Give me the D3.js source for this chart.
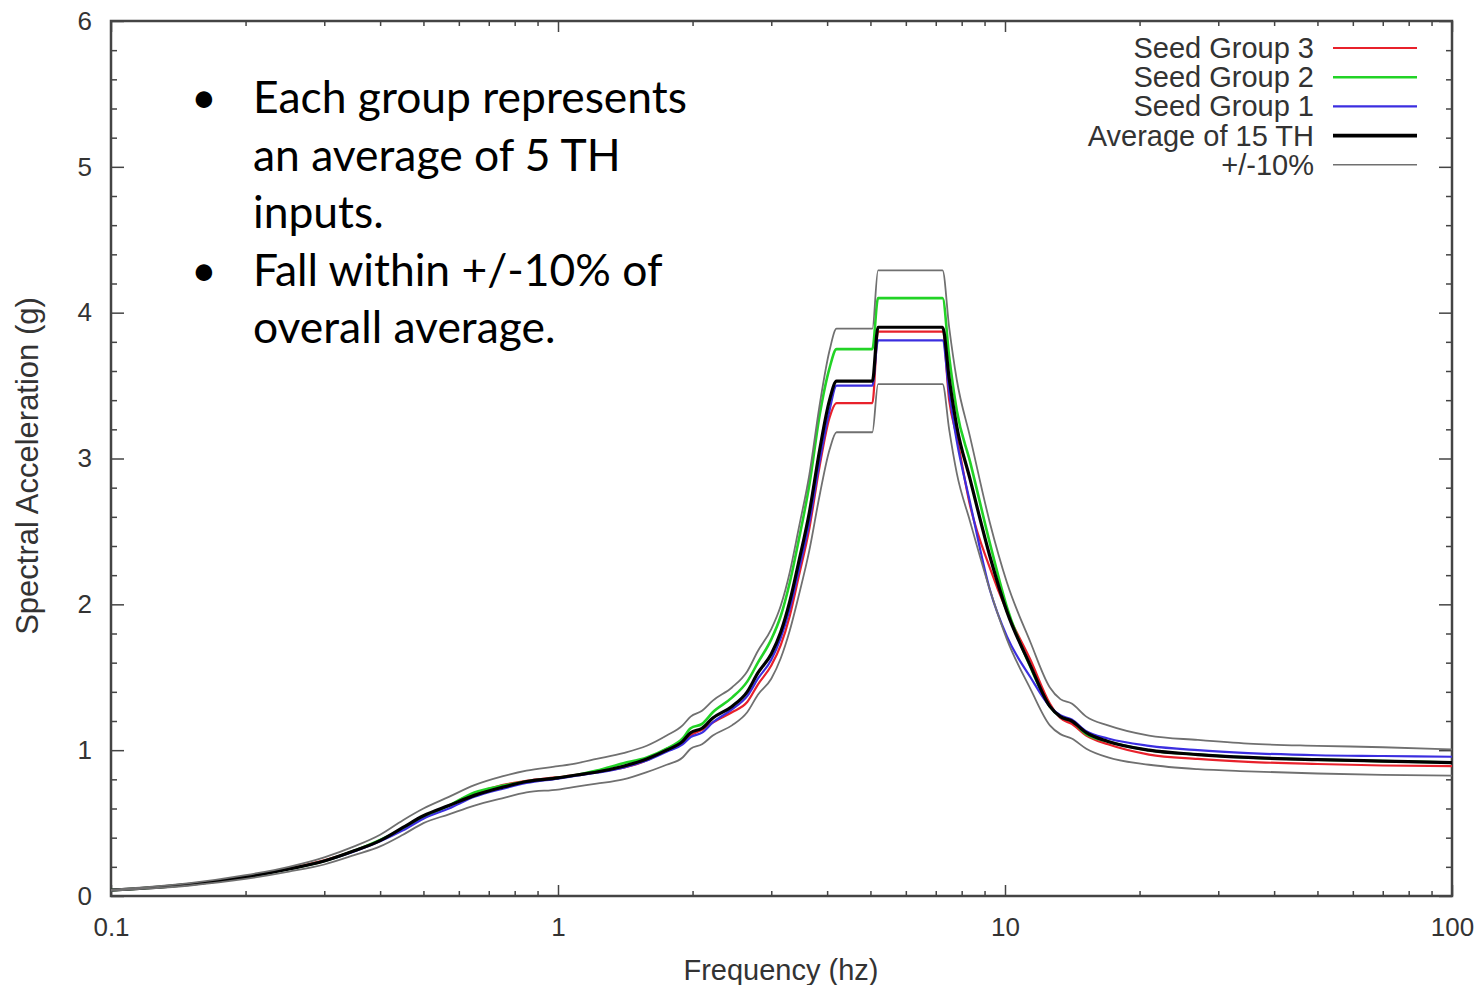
<!DOCTYPE html>
<html>
<head>
<meta charset="utf-8">
<title>Spectral Acceleration</title>
<script src="https://cdn.jsdelivr.net/npm/d3@7"></script>
<style>
  body { margin: 0; background: #fff; }
  .chart text { font-family: "Liberation Sans", Arial, sans-serif; fill: #333; }
  .note text { font-family: Lato, "Open Sans", sans-serif; fill: #000; }
</style>
</head>
<body>
<div class="chart"></div>
<script>
// frequency points (hz) shared by all curves
var freq = [0.1, 0.12, 0.15, 0.2, 0.25, 0.3, 0.35, 0.4, 0.45, 0.5, 0.57, 0.65, 0.75, 0.85,
  1.0, 1.1, 1.22, 1.4, 1.58, 1.75, 1.9, 1.98, 2.1, 2.22, 2.45, 2.65, 2.8, 3.0, 3.15, 3.3,
  3.45, 3.65, 3.85, 4.05, 4.2, 4.3, 5.05, 5.2, 7.25, 7.5, 7.8, 8.35, 9.25, 10.1, 11.4,
  12.6, 13.3, 14.1, 15.2, 17, 21, 27, 35, 50, 70, 100];

var seed3 = [0.04, 0.055, 0.08, 0.13, 0.19, 0.245, 0.31, 0.38, 0.46, 0.54, 0.62, 0.70, 0.76, 0.79,
  0.815, 0.83, 0.85, 0.88, 0.93, 1.01, 1.05, 1.1, 1.14, 1.19, 1.26, 1.33, 1.45, 1.58, 1.72, 1.92,
  2.18, 2.52, 2.95, 3.28, 3.38, 3.38, 3.38, 3.87, 3.87, 3.4, 3.15, 2.68, 2.25, 1.95, 1.62,
  1.32, 1.22, 1.18, 1.1, 1.04, 0.97, 0.94, 0.92, 0.905, 0.895, 0.89];

var seed2 = [0.04, 0.055, 0.08, 0.13, 0.185, 0.24, 0.31, 0.385, 0.46, 0.54, 0.62, 0.71, 0.755, 0.785,
  0.81, 0.83, 0.86, 0.91, 0.95, 1.01, 1.08, 1.15, 1.18, 1.26, 1.36, 1.47, 1.6, 1.76, 1.92, 2.15,
  2.43, 2.82, 3.3, 3.62, 3.75, 3.75, 3.75, 4.1, 4.1, 3.7, 3.33, 2.98, 2.42, 1.98, 1.57,
  1.3, 1.23, 1.2, 1.11, 1.06, 1.0, 0.97, 0.95, 0.935, 0.925, 0.915];

var seed1 = [0.04, 0.055, 0.08, 0.13, 0.185, 0.24, 0.305, 0.375, 0.45, 0.53, 0.6, 0.68, 0.735, 0.775,
  0.805, 0.825, 0.845, 0.88, 0.93, 0.99, 1.04, 1.09, 1.12, 1.19, 1.28, 1.37, 1.49, 1.62, 1.77, 1.97,
  2.22, 2.56, 2.98, 3.33, 3.5, 3.5, 3.5, 3.81, 3.81, 3.45, 3.12, 2.7, 2.1, 1.78, 1.5,
  1.3, 1.24, 1.21, 1.13, 1.08, 1.03, 1.0, 0.98, 0.965, 0.96, 0.955];

var avg15 = [0.04, 0.055, 0.08, 0.13, 0.185, 0.24, 0.31, 0.38, 0.47, 0.55, 0.62, 0.69, 0.745, 0.785,
  0.81, 0.83, 0.85, 0.89, 0.94, 1.0, 1.06, 1.12, 1.15, 1.22, 1.3, 1.4, 1.53, 1.66, 1.81, 2.02,
  2.28, 2.63, 3.06, 3.4, 3.53, 3.53, 3.53, 3.9, 3.9, 3.55, 3.22, 2.86, 2.33, 1.95, 1.58,
  1.3, 1.23, 1.2, 1.12, 1.06, 1.0, 0.97, 0.95, 0.935, 0.925, 0.915];

var upper10 = [0.044, 0.06, 0.088, 0.143, 0.2, 0.265, 0.34, 0.42, 0.52, 0.6, 0.68, 0.76, 0.82, 0.86,
  0.89, 0.91, 0.94, 0.98, 1.03, 1.1, 1.17, 1.23, 1.27, 1.34, 1.43, 1.54, 1.68, 1.83, 1.99, 2.22,
  2.51, 2.89, 3.37, 3.74, 3.89, 3.89, 3.89, 4.29, 4.29, 3.9, 3.54, 3.15, 2.56, 2.15, 1.74,
  1.43, 1.35, 1.32, 1.23, 1.17, 1.1, 1.07, 1.045, 1.03, 1.02, 1.005];

var lower10 = [0.036, 0.05, 0.072, 0.117, 0.167, 0.216, 0.28, 0.34, 0.42, 0.5, 0.56, 0.62, 0.67, 0.71,
  0.73, 0.75, 0.77, 0.8, 0.85, 0.9, 0.95, 1.01, 1.04, 1.1, 1.17, 1.26, 1.38, 1.49, 1.63, 1.82,
  2.05, 2.37, 2.75, 3.06, 3.18, 3.18, 3.18, 3.51, 3.51, 3.2, 2.9, 2.57, 2.1, 1.76, 1.42,
  1.17, 1.11, 1.08, 1.01, 0.95, 0.9, 0.87, 0.855, 0.84, 0.83, 0.825];

var xMajor = [0.1, 1, 10, 100];
var xTickLabels = ["0.1", "1", "10", "100"];
var yMajor = [0, 1, 2, 3, 4, 5, 6];

var legendNames = ["Seed Group 3", "Seed Group 2", "Seed Group 1", "Average of 15 TH", "+/-10%"];

var noteLines = ["Each group represents", "an average of 5 TH", "inputs.", "Fall within +/-10% of", "overall average."];
var noteBullets = [true, false, false, true, false];

var W = 1484, H = 985;
var mLeft = 111, mRight = 1452, mTop = 21, mBottom = 896;

var svg = d3.select('.chart').append('svg')
    .attr('width', W).attr('height', H);

var x = d3.scaleLog().domain([0.1, 100]).range([mLeft, mRight]);
var y = d3.scaleLinear().domain([0, 6]).range([mBottom, mTop]);

// minor ticks
var xMinor = [];
[0.1, 1, 10].forEach(function(d) {
  for (var k = 2; k <= 9; k++) xMinor.push(d * k);
});
var yMinor = d3.range(0, 6.01, 0.2).filter(function(v) { return Math.abs(v - Math.round(v)) > 0.01; });

function tidy(g) {
  g.select('.domain').remove();
  g.selectAll('.tick line').attr('stroke', '#444').attr('stroke-width', 1.5);
}

// bottom
svg.append('g').attr('transform', 'translate(0,' + mBottom + ')')
  .call(d3.axisBottom(x).tickValues(xMajor).tickSize(-11).tickPadding(22)
    .tickFormat(function(d, i) { return xTickLabels[i]; }))
  .call(tidy)
  .selectAll('text').attr('font-size', 26).attr('fill', '#333');
svg.append('g').attr('transform', 'translate(0,' + mBottom + ')')
  .call(d3.axisBottom(x).tickValues(xMinor).tickSize(-5).tickFormat(''))
  .call(tidy);
// top
svg.append('g').attr('transform', 'translate(0,' + mTop + ')')
  .call(d3.axisTop(x).tickValues(xMajor).tickSize(-11).tickFormat(''))
  .call(tidy);
svg.append('g').attr('transform', 'translate(0,' + mTop + ')')
  .call(d3.axisTop(x).tickValues(xMinor).tickSize(-5).tickFormat(''))
  .call(tidy);
// left
svg.append('g').attr('transform', 'translate(' + mLeft + ',0)')
  .call(d3.axisLeft(y).tickValues(yMajor).tickSize(-13).tickPadding(19).tickFormat(d3.format('d')))
  .call(tidy)
  .selectAll('text').attr('font-size', 26).attr('fill', '#333');
svg.append('g').attr('transform', 'translate(' + mLeft + ',0)')
  .call(d3.axisLeft(y).tickValues(yMinor).tickSize(-6).tickFormat(''))
  .call(tidy);
// right
svg.append('g').attr('transform', 'translate(' + mRight + ',0)')
  .call(d3.axisRight(y).tickValues(yMajor).tickSize(-13).tickFormat(''))
  .call(tidy);
svg.append('g').attr('transform', 'translate(' + mRight + ',0)')
  .call(d3.axisRight(y).tickValues(yMinor).tickSize(-6).tickFormat(''))
  .call(tidy);

// frame
svg.append('rect')
  .attr('x', mLeft).attr('y', mTop)
  .attr('width', mRight - mLeft).attr('height', mBottom - mTop)
  .attr('fill', 'none').attr('stroke', '#444').attr('stroke-width', 2.5);

// axis titles
svg.append('text')
  .attr('x', 781).attr('y', 980)
  .attr('text-anchor', 'middle').attr('font-size', 29)
  .text('Frequency (hz)');
svg.append('text')
  .attr('transform', 'translate(38,' + 466 + ') rotate(-90)')
  .attr('text-anchor', 'middle').attr('font-size', 31)
  .text('Spectral Acceleration (g)');

// curves
var line = d3.line()
  .x(function(d) { return x(d[0]); })
  .y(function(d) { return y(d[1]); })
  .curve(d3.curveMonotoneX);

var series = [
  { vals: seed3, color: '#e8212b', width: 2.2 },
  { vals: seed2, color: '#22d326', width: 2.6 },
  { vals: seed1, color: '#3b2ee0', width: 2.2 },
  { vals: avg15, color: '#000000', width: 3.2 },
  { vals: upper10, color: '#707070', width: 1.8 },
  { vals: lower10, color: '#707070', width: 1.8 }
];

var plot = svg.append('g');
series.forEach(function(s) {
  plot.append('path')
    .datum(freq.map(function(f, i) { return [f, s.vals[i]]; }))
    .attr('d', line)
    .attr('fill', 'none')
    .attr('stroke', s.color)
    .attr('stroke-width', s.width)
    .attr('stroke-linejoin', 'round');
});

// legend
var legendColors = ['#e8212b', '#22d326', '#3b2ee0', '#000000', '#707070'];
var legendWidths = [2.2, 2.6, 2.2, 3.6, 1.6];
var leg = svg.append('g');
legendNames.forEach(function(name, i) {
  var ly = 48 + i * 29.2;
  leg.append('text')
    .attr('x', 1314).attr('y', ly + 10)
    .attr('text-anchor', 'end').attr('font-size', 29)
    .text(name);
  leg.append('line')
    .attr('x1', 1333).attr('x2', 1417)
    .attr('y1', ly).attr('y2', ly)
    .attr('stroke', legendColors[i]).attr('stroke-width', legendWidths[i]);
});

// annotation
var note = svg.append('g').attr('class', 'note');
var fs = 40;
var probe = note.append('text').attr('font-size', fs).text(noteLines[0]);
fs = fs * 434 / probe.node().getComputedTextLength();
probe.remove();
noteLines.forEach(function(t, i) {
  var by = 113 + i * 57.5;
  if (noteBullets[i]) {
    note.append('text').attr('x', 191).attr('y', by).attr('font-size', fs).text('\u2022');
  }
  note.append('text').attr('x', 253).attr('y', by).attr('font-size', fs).text(t);
});
</script>
</body>
</html>
